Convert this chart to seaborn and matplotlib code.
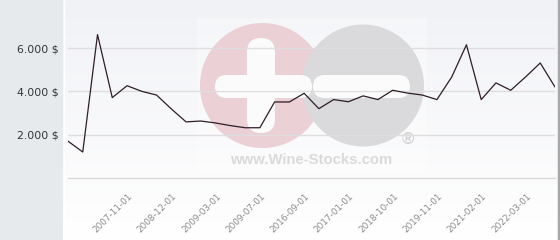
import numpy as np
import pandas as pd
import matplotlib
matplotlib.use('Agg')
import matplotlib.pyplot as plt
import seaborn as sns
from matplotlib.patches import Circle, FancyBboxPatch, Rectangle
from matplotlib.lines import Line2D
from matplotlib.transforms import ScaledTranslation

# ---- data ----
prices = [1700, 1200, 6620, 3710, 4260, 4000, 3830, 3190, 2590, 2630,
          2540, 2420, 2320, 2320, 3510, 3510, 3910, 3200, 3620, 3520,
          3790, 3620, 4050, 3920, 3830, 3620, 4660, 6150, 3620, 4390,
          4050, 4660, 5310, 4200]
tick_labels = ['2007-11-01', '2008-12-01', '2009-03-01', '2009-07-01',
               '2016-09-01', '2017-01-01', '2018-10-01', '2019-11-01',
               '2021-02-01', '2022-03-01']
first_labelled = 4
label_every = 3
y_ticks = [2000, 4000, 6000]

sns.set_theme(style='white')
plt.rcParams['font.family'] = ['DejaVu Sans']

W, H = 560, 240
fig = plt.figure(figsize=(W / 100, H / 100), dpi=100, facecolor='#e6eaed')

# ---- background panel with gradient + watermark (pixel coordinates) ----
bg = fig.add_axes([63 / W, 0, (557 - 63) / W, 1], zorder=0)
top = np.array(matplotlib.colors.to_rgb('#f1f2f6'))
bot = np.array([1.0, 1.0, 1.0])
t = np.linspace(0, 1, 240)[:, None, None]
img = top + (bot - top) * t
bg.imshow(img, extent=(63, 557, 240, 0), aspect='auto', interpolation='bilinear')
bg.set_xlim(63, 557)
bg.set_ylim(240, 0)
bg.axis('off')

bg.add_patch(Rectangle((197, 18), 230, 154, color='white', alpha=0.3, lw=0, zorder=2))
bg.add_patch(Circle((262.5, 85.5), 62.5, color='#ebd0d6', lw=0, zorder=3))
bg.add_patch(Circle((363, 85.5), 61, color='#dadadc', lw=0, zorder=4))
bar_col = '#fbfbfc'
bg.add_patch(FancyBboxPatch((247, 38), 28, 95, boxstyle='round,pad=0,rounding_size=14',
                            color=bar_col, lw=0, zorder=5))
bg.add_patch(FancyBboxPatch((215, 75), 97, 23, boxstyle='round,pad=0,rounding_size=11.5',
                            color=bar_col, lw=0, zorder=5))
bg.add_patch(FancyBboxPatch((313, 75), 97, 23, boxstyle='round,pad=0,rounding_size=11.5',
                            color=bar_col, lw=0, zorder=5))
bg.text(311, 160, 'www.Wine-Stocks.com', ha='center', va='center', fontsize=10.7,
        fontweight='bold', color='#dadada', family='Liberation Sans', zorder=6)
bg.text(408, 139, '\u00ae', ha='center', va='center', fontsize=12,
        color='#d2d2d2', family='Liberation Sans', fontweight='bold', zorder=6)

# ---- main chart ----
ax = fig.add_axes([68 / W, 62 / H, 487 / W, 173.3 / H], zorder=1)
ax.patch.set_alpha(0)
df = pd.DataFrame({'idx': np.arange(len(prices)), 'price': prices})
sns.lineplot(data=df, x='idx', y='price', ax=ax, color='#2e1d27', lw=0.9, zorder=3)
ax.set_xlim(0, len(prices) - 1)
ax.set_ylim(0, 8000)
ax.set_yticks(y_ticks)
ax.set_yticklabels([f'{v:,.0f} $'.replace(',', '.') for v in y_ticks])
ax.grid(axis='y', color='#dedede', lw=1)
ax.grid(axis='x', visible=False)
for s in ['left', 'top', 'right']:
    ax.spines[s].set_visible(False)
ax.spines['bottom'].set_color('#d9d9d9')
ax.spines['bottom'].set_linewidth(1)
ax.tick_params(axis='y', length=0, pad=7, labelsize=7.8, labelcolor='#333333')
ax.set_xticks(range(first_labelled, len(prices), label_every))
ax.set_xticklabels(tick_labels, rotation=45, ha='right', va='center',
                   rotation_mode='anchor', fontsize=6.4, color='#8c8c8c')
ax.tick_params(axis='x', length=0, pad=12)
for lbl in ax.get_xticklabels():
    lbl.set_transform(lbl.get_transform() + ScaledTranslation(4 / 100, 0, fig.dpi_scale_trans))
ax.set_xlabel('')
ax.set_ylabel('')

fig.add_artist(Line2D([63.5 / W] * 2, [0, 1], transform=fig.transFigure, color='white', lw=1))
fig.add_artist(Line2D([558.5 / W] * 2, [0, 1], transform=fig.transFigure, color='#a8a8a8', lw=1.5))

fig.savefig('out.png', dpi=100, facecolor=fig.get_facecolor())
